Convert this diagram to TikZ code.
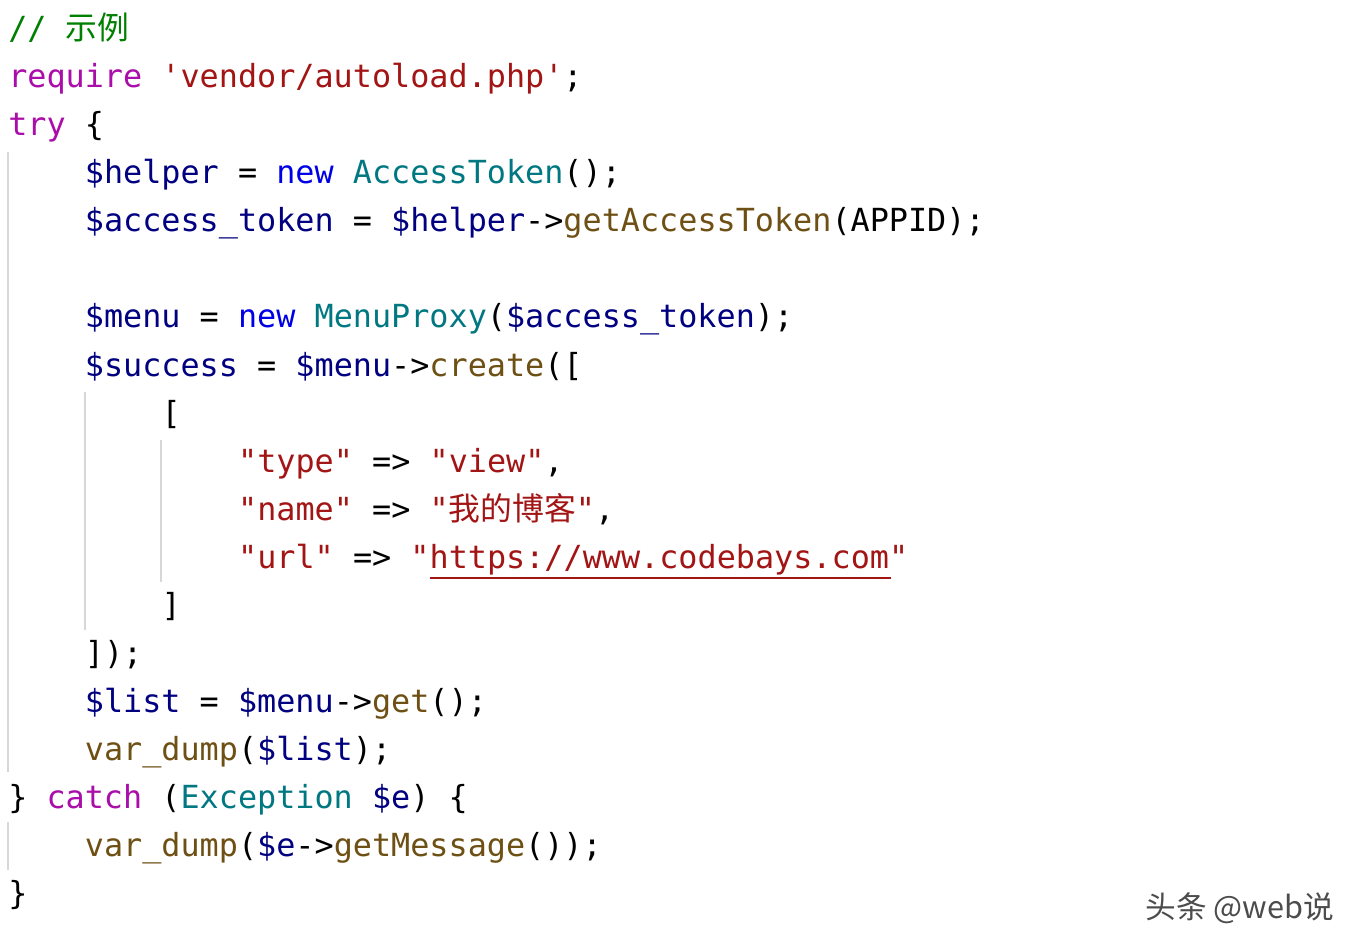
\documentclass[tikz,border=0pt]{standalone}
\usepackage{fontspec}
\newfontfamily\code{DejaVu Sans Mono}
\newfontfamily\cjk{Noto Sans CJK SC}
\definecolor{cmt}{RGB}{0,128,0}
\definecolor{kw}{RGB}{170,13,170}
\definecolor{nw}{RGB}{0,0,230}
\definecolor{cls}{RGB}{0,120,130}
\definecolor{vr}{RGB}{0,0,128}
\definecolor{fn}{RGB}{110,80,20}
\definecolor{st}{RGB}{163,21,21}
\definecolor{guide}{RGB}{215,215,215}
\newcommand{\K}[1]{\textcolor{kw}{#1}}
\newcommand{\N}[1]{\textcolor{nw}{#1}}
\newcommand{\C}[1]{\textcolor{cls}{#1}}
\newcommand{\V}[1]{\textcolor{vr}{#1}}
\newcommand{\F}[1]{\textcolor{fn}{#1}}
\newcommand{\St}[1]{\textcolor{st}{#1}}
\begin{document}
\begin{tikzpicture}[x=0.75pt,y=-0.75pt,
  ln/.style={anchor=base west,inner sep=0pt,font=\code\fontsize{23.85}{28}\selectfont}]
\useasboundingbox (0,0) rectangle (1360,952);
\fill[white] (0,0) rectangle (1360,952);
% guides
\draw[guide,line width=1.5pt] (8,152) -- (8,772);
\draw[guide,line width=1.5pt] (85,392) -- (85,630);
\draw[guide,line width=1.5pt] (161,440) -- (161,582);
\draw[guide,line width=1.5pt] (8,822) -- (8,870);
\def\cw{19.16}
\def\b#1{\fpeval{40+48*#1}}
\node[ln] (l0) at (8,40) {\textcolor{cmt}{// {\cjk 示例}}};
\node[ln] (l1) at (8,88) {\K{require} \St{'vendor/autoload.php'};};
\node[ln] (l2) at (8,136) {\K{try} \{};
\node[ln] (l3) at (84.6,184) {\V{\$helper} = \N{new} \C{AccessToken}();};
\node[ln] (l4) at (84.6,232) {\V{\$access\_token} = \V{\$helper}->\F{getAccessToken}(APPID);};
\node[ln] (l6) at (84.6,328) {\V{\$menu} = \N{new} \C{MenuProxy}(\V{\$access\_token});};
\node[ln] (l7) at (84.6,376) {\V{\$success} = \V{\$menu}->\F{create}([};
\node[ln] (l8) at (161.3,424) {[};
\node[ln] (l9) at (237.9,472) {\St{"type"} => \St{"view"},};
\node[ln] (l10) at (237.9,520) {\St{"name"} => \St{"{\cjk 我的博客}"},};
\node[ln] (l11) at (237.9,568) {\St{"url"} => \St{"https://www.codebays.com"}};
\draw[st,line width=1.3pt] (430,578) -- (891,578);
\node[ln] (l12) at (161.3,616) {]};
\node[ln] (l13) at (84.6,664) {]);};
\node[ln] (l14) at (84.6,712) {\V{\$list} = \V{\$menu}->\F{get}();};
\node[ln] (l15) at (84.6,760) {\F{var\_dump}(\V{\$list});};
\node[ln] (l16) at (8,808) {\} \K{catch} (\C{Exception} \V{\$e}) \{};
\node[ln] (l17) at (84.6,856) {\F{var\_dump}(\V{\$e}->\F{getMessage}());};
\node[ln] (l18) at (8,904) {\}};
\node[anchor=base east,inner sep=0pt,text=gray!60!black,font=\cjk\fontsize{23}{28}\selectfont] (wm) at (1334,918) {头条 @web说};
\end{tikzpicture}
\end{document}
